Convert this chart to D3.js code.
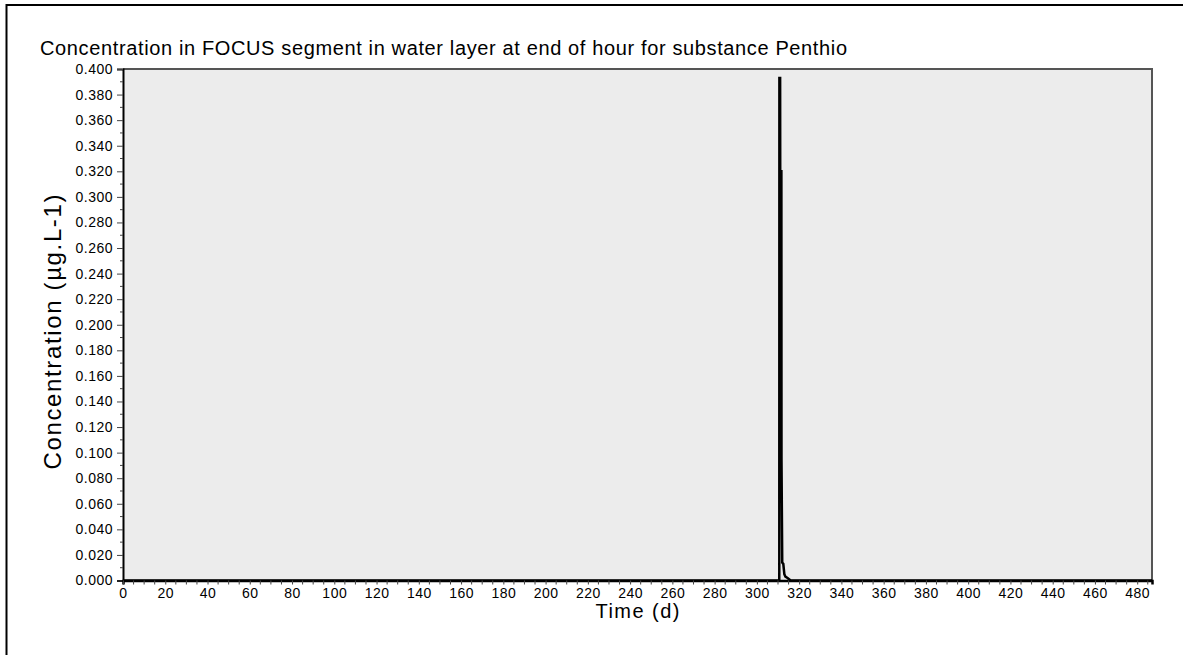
<!DOCTYPE html>
<html>
<head>
<meta charset="utf-8">
<script src="https://cdn.jsdelivr.net/npm/d3@7"></script>
<style>
  html, body { margin: 0; padding: 0; background: #ffffff; }
  svg { display: block; }
  text { font-family: "Liberation Sans", Arial, sans-serif; fill: #000; }
</style>
</head>
<body>
<div id="chart"></div>
<script>
// ---- data ----
const chartTitle = "Concentration in FOCUS segment in water layer at end of hour for substance Penthio";
const xLabel = "Time (d)";
const yLabel = "Concentration (µg.L-1)";
const timeDays = [0, 310.6, 310.65, 311.0, 311.05, 311.6, 311.65, 312.0, 312.5, 313.0, 313.5, 314.5, 316.0, 487];
const concentration = [0, 0, 0.393, 0.393, 0.320, 0.320, 0.095, 0.014, 0.013, 0.005, 0.003, 0.002, 0, 0];
const xTickValues = d3.range(0, 481, 20);
const yTickValues = d3.range(0, 0.4001, 0.02);

// ---- layout ----
const W = 1183, H = 655;
const plot = { left: 123, top: 69, right: 1152, bottom: 580.5 };

const svg = d3.select("#chart").append("svg").attr("width", W).attr("height", H);

// outer frame
svg.append("rect").attr("x", 6.5).attr("y", 5).attr("width", 1300).attr("height", 800)
  .attr("fill", "none").attr("stroke", "#000").attr("stroke-width", 2);

const x = d3.scaleLinear().domain([0, 487]).range([plot.left, plot.right]);
const y = d3.scaleLinear().domain([0, 0.4]).range([plot.bottom, plot.top]);

// plot background
svg.append("rect").attr("x", plot.left).attr("y", plot.top)
  .attr("width", plot.right - plot.left).attr("height", plot.bottom - plot.top)
  .attr("fill", "#ececec");

// top & right border (dark gray)
svg.append("path")
  .attr("d", `M${plot.left},${plot.top}H${plot.right}V${plot.bottom}`)
  .attr("fill", "none").attr("stroke", "#555").attr("stroke-width", 2);

// data line
const line = d3.line().x((d, i) => x(timeDays[i])).y(d => y(d));
svg.append("path").datum(concentration)
  .attr("d", line).attr("fill", "none").attr("stroke", "#000")
  .attr("stroke-width", 2.5).attr("stroke-linejoin", "miter");

// y axis
const yAxis = d3.axisLeft(y).tickValues(yTickValues).tickFormat(d3.format(".3f"))
  .tickSize(6).tickPadding(4);
const gy = svg.append("g").attr("transform", `translate(${plot.left},0)`).call(yAxis);
gy.select(".domain").attr("stroke", "#000").attr("stroke-width", 2);
gy.selectAll(".tick line").attr("stroke", "#444");
gy.selectAll(".tick text").style("font-size", "14px").style("letter-spacing", "0.5px")
  .style("font-family", "'Liberation Sans', Arial, sans-serif");
// y minor ticks
svg.append("g").selectAll("line").data(d3.range(0.01, 0.4, 0.02)).join("line")
  .attr("x1", plot.left - 3).attr("x2", plot.left)
  .attr("y1", d => y(d)).attr("y2", d => y(d)).attr("stroke", "#444");

// x axis
const xAxis = d3.axisBottom(x).tickValues(xTickValues).tickFormat(d3.format("d"))
  .tickSize(4).tickPadding(4);
const gx = svg.append("g").attr("transform", `translate(0,${plot.bottom})`).call(xAxis);
gx.select(".domain").attr("stroke", "#000").attr("stroke-width", 2.5);
gx.selectAll(".tick line").attr("stroke", "#444");
gx.selectAll(".tick text").style("font-size", "14px").style("letter-spacing", "0.5px")
  .style("font-family", "'Liberation Sans', Arial, sans-serif");
// x minor ticks
svg.append("g").selectAll("line").data(d3.range(5, 487, 5).filter(d => d % 20 !== 0)).join("line")
  .attr("x1", d => x(d)).attr("x2", d => x(d))
  .attr("y1", plot.bottom).attr("y2", plot.bottom + 4).attr("stroke", "#444");

// title
svg.append("text").attr("x", 40).attr("y", 55)
  .attr("textLength", 807).attr("lengthAdjust", "spacing")
  .style("font-size", "20px").text(chartTitle);

// axis labels
svg.append("text").attr("x", (plot.left + plot.right) / 2).attr("y", 618)
  .attr("text-anchor", "middle")
  .attr("textLength", 84).attr("lengthAdjust", "spacing")
  .style("font-size", "20px").text(xLabel);
svg.append("text")
  .attr("transform", `translate(61,332) rotate(-90)`)
  .attr("text-anchor", "middle")
  .attr("textLength", 275).attr("lengthAdjust", "spacing")
  .style("font-size", "24px").text(yLabel);
</script>
</body>
</html>
